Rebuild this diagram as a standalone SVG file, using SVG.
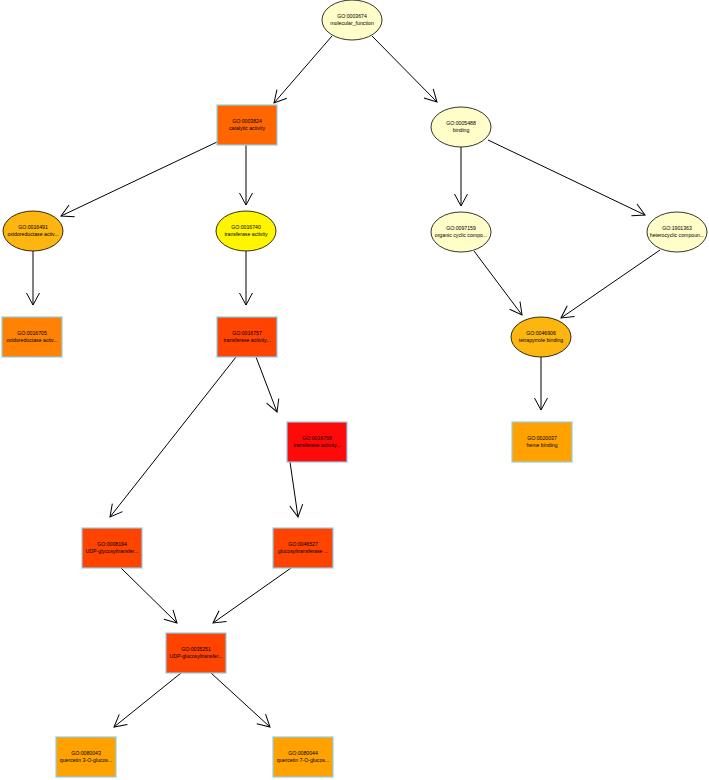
<svg xmlns="http://www.w3.org/2000/svg" width="709" height="780" viewBox="0 0 709 780">
<style>
.e{stroke:#000;stroke-width:0.8}
.r{stroke:#8ECFEA;stroke-width:1.2}
.t{font-family:"Liberation Sans",Arial,sans-serif;font-size:5.2px;fill:#000;text-anchor:middle}
.c line{stroke:#000;stroke-width:1;marker-end:url(#a)}
</style>
<defs>
<marker id="a" markerUnits="userSpaceOnUse" markerWidth="16" markerHeight="16" viewBox="0 0 16 16" refX="14" refY="8" orient="auto">
<path d="M2,1.5 L14,8 L2,14.5" fill="none" stroke="#000" stroke-width="1"/>
</marker>
</defs>
<rect width="709" height="780" fill="#fff"/>
<g class="c">
<line x1="332" y1="36" x2="274" y2="103"/>
<line x1="372" y1="36" x2="437" y2="102"/>
<line x1="217" y1="142" x2="61" y2="216"/>
<line x1="246" y1="145" x2="246" y2="205"/>
<line x1="461" y1="147" x2="461" y2="206"/>
<line x1="488" y1="140" x2="645" y2="215"/>
<line x1="33" y1="251" x2="33" y2="305"/>
<line x1="246" y1="251" x2="246" y2="305"/>
<line x1="474" y1="251" x2="522" y2="315"/>
<line x1="660" y1="250" x2="561" y2="318"/>
<line x1="541" y1="357" x2="541" y2="410"/>
<line x1="256" y1="357" x2="277" y2="412"/>
<line x1="236" y1="357" x2="110" y2="517"/>
<line x1="290" y1="462" x2="298" y2="517"/>
<line x1="121" y1="568" x2="177" y2="623"/>
<line x1="291" y1="568" x2="213" y2="623"/>
<line x1="181" y1="673" x2="114" y2="727"/>
<line x1="211" y1="673" x2="270" y2="727"/>
</g>
<g id="n3674"><ellipse class="e" cx="352" cy="20" rx="30" ry="20" fill="#FFFDC8"/><text class="t" x="352" y="18">GO:0003674</text><text class="t" x="352" y="25">molecular_function</text></g>
<g id="n3824"><rect class="r" x="217" y="105" width="60" height="40" fill="#FF6600"/><text class="t" x="247" y="123">GO:0003824</text><text class="t" x="247" y="130">catalytic activity</text></g>
<g id="n5488"><ellipse class="e" cx="461" cy="127" rx="30" ry="20" fill="#FFFDC8"/><text class="t" x="461" y="125">GO:0005488</text><text class="t" x="461" y="132">binding</text></g>
<g id="n16491"><ellipse class="e" cx="33" cy="231" rx="30" ry="20" fill="#FDB50F"/><text class="t" x="33" y="229">GO:0016491</text><text class="t" x="33" y="236">oxidoreductase activ...</text></g>
<g id="n16740"><ellipse class="e" cx="246" cy="231" rx="30" ry="20" fill="#FFF500"/><text class="t" x="246" y="229">GO:0016740</text><text class="t" x="246" y="236">transferase activity</text></g>
<g id="n97159"><ellipse class="e" cx="461" cy="232" rx="30" ry="20" fill="#FFFDC8"/><text class="t" x="461" y="230">GO:0097159</text><text class="t" x="461" y="237">organic cyclic compo...</text></g>
<g id="n1901363"><ellipse class="e" cx="677" cy="232" rx="30" ry="20" fill="#FFFDC8"/><text class="t" x="677" y="230">GO:1901363</text><text class="t" x="677" y="237">heterocyclic compoun...</text></g>
<g id="n16705"><rect class="r" x="2" y="317" width="60" height="40" fill="#FF8204"/><text class="t" x="32" y="335">GO:0016705</text><text class="t" x="32" y="342">oxidoreductase activ...</text></g>
<g id="n16757"><rect class="r" x="217" y="317" width="60" height="40" fill="#FF4300"/><text class="t" x="247" y="335">GO:0016757</text><text class="t" x="247" y="342">transferase activity...</text></g>
<g id="n46906"><ellipse class="e" cx="541" cy="337" rx="30" ry="20" fill="#FDB50F"/><text class="t" x="541" y="335">GO:0046906</text><text class="t" x="541" y="342">tetrapyrrole binding</text></g>
<g id="n16758"><rect class="r" x="287" y="422" width="60" height="40" fill="#FF0A0A"/><text class="t" x="317" y="440">GO:0016758</text><text class="t" x="317" y="447">transferase activity...</text></g>
<g id="n20037"><rect class="r" x="512" y="422" width="60" height="40" fill="#FFA200"/><text class="t" x="542" y="440">GO:0020037</text><text class="t" x="542" y="447">heme binding</text></g>
<g id="n8194"><rect class="r" x="82" y="528" width="60" height="40" fill="#FF4300"/><text class="t" x="112" y="546">GO:0008194</text><text class="t" x="112" y="553">UDP-glycosyltransfer...</text></g>
<g id="n46527"><rect class="r" x="273" y="528" width="60" height="40" fill="#FF4300"/><text class="t" x="303" y="546">GO:0046527</text><text class="t" x="303" y="553">glucosyltransferase ...</text></g>
<g id="n35251"><rect class="r" x="166" y="633" width="60" height="40" fill="#FF4300"/><text class="t" x="196" y="651">GO:0035251</text><text class="t" x="196" y="658">UDP-glucosyltransfer...</text></g>
<g id="n80043"><rect class="r" x="56" y="737" width="60" height="40" fill="#FFA200"/><text class="t" x="86" y="755">GO:0080043</text><text class="t" x="86" y="762">quercetin 3-O-glucos...</text></g>
<g id="n80044"><rect class="r" x="273" y="737" width="60" height="40" fill="#FFA200"/><text class="t" x="303" y="755">GO:0080044</text><text class="t" x="303" y="762">quercetin 7-O-glucos...</text></g>
</svg>
